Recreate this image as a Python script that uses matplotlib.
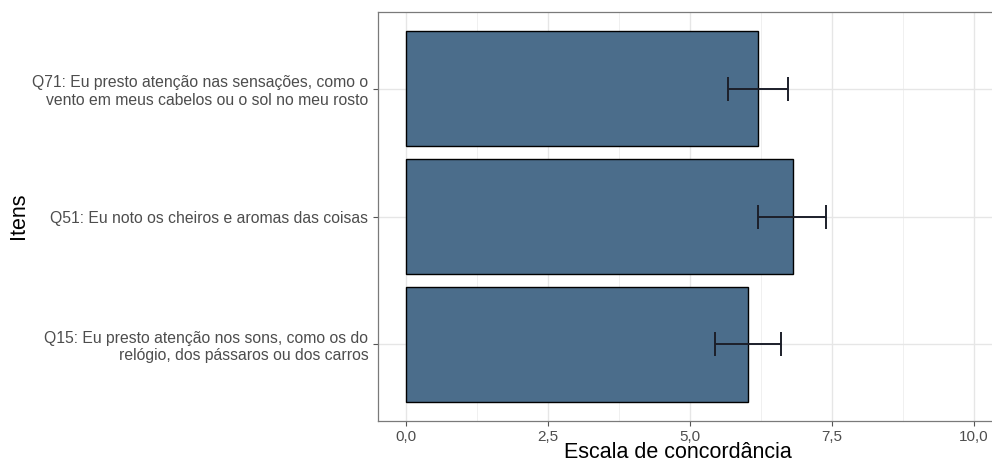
import matplotlib
matplotlib.use('Agg')
import matplotlib.pyplot as plt
import numpy as np

plt.rcParams['font.family'] = ['Liberation Sans', 'DejaVu Sans']

# items, bottom to top
itens = [
    "Q15: Eu presto atenção nos sons, como os do\nrelógio, dos pássaros ou dos carros",
    "Q51: Eu noto os cheiros e aromas das coisas",
    "Q71: Eu presto atenção nas sensações, como o\nvento em meus cabelos ou o sol no meu rosto",
]
media = [6.03, 6.81, 6.21]
ic_inf = [5.45, 6.21, 5.68]
ic_sup = [6.61, 7.40, 6.73]

x_ticks = [0.0, 2.5, 5.0, 7.5, 10.0]
x_tick_labels = ["0,0", "2,5", "5,0", "7,5", "10,0"]

W, H = 992, 466
fig = plt.figure(figsize=(W / 100, H / 100), dpi=100)
left, right, top, bottom = 377.5, 1002, 12, 421
ax = fig.add_axes([left / W, (H - bottom) / H, (right - left) / W, (bottom - top) / H])

pos = np.arange(1, len(itens) + 1)
ax.barh(pos, media, height=0.9, color='#4B6D8B', edgecolor='black', linewidth=1.0, zorder=3)
err = [np.array(media) - np.array(ic_inf), np.array(ic_sup) - np.array(media)]
# capsize is half the cap length in points
ax.errorbar(media, pos, xerr=err, fmt='none', ecolor='#1c1f2a', elinewidth=1.4,
            capsize=8.7, capthick=1.4, zorder=4)

ax.set_xlim(-0.5, 10.5)
ax.set_ylim(0.4, 3.6)
ax.set_xticks(x_ticks)
ax.set_xticklabels(x_tick_labels)
ax.set_xticks(np.arange(1.25, 10, 2.5), minor=True)
ax.set_yticks(pos)
ax.set_yticklabels(itens, ha='right', multialignment='right')

ax.grid(True, which='major', color='#E6E6E6', linewidth=1.0, zorder=0)
ax.grid(True, which='minor', axis='x', color='#F0F0F0', linewidth=0.7, zorder=0)
ax.set_axisbelow(True)

for s in ax.spines.values():
    s.set_color('#7A7A7A')
    s.set_linewidth(0.9)

ax.tick_params(axis='both', which='major', colors='#555555', labelcolor='#4D4D4D',
               labelsize=11.3, length=3.5, width=0.8, pad=3)
ax.tick_params(axis='x', which='major', labelsize=11)
ax.tick_params(axis='both', which='minor', length=0)

fig.text(678 / W, 1 - 453 / H, "Escala de concordância", ha='center', va='center',
         fontsize=15.5, color='black')
fig.text(19 / W, 1 - 216 / H, "Itens", ha='center', va='center', rotation=90,
         fontsize=15.5, color='black')

fig.savefig('out.png', dpi=100)
